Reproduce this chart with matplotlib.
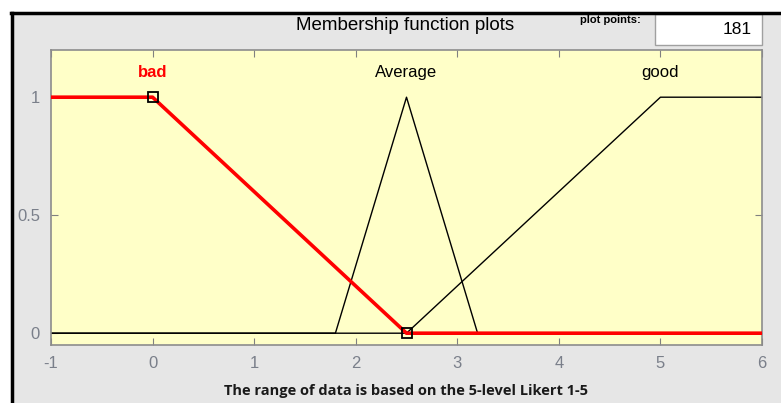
import matplotlib
matplotlib.use("Agg")
import matplotlib.pyplot as plt
from matplotlib.patches import Rectangle
from matplotlib.lines import Line2D

# membership functions on the input range
bad_x = [-1, 0, 2.5, 6]
bad_y = [1, 1, 0, 0]
avg_x = [-1, 1.8, 2.5, 3.2, 6]
avg_y = [0, 0, 1, 0, 0]
good_x = [-1, 2.5, 5, 6]
good_y = [0, 0, 1, 1]
mf_names = ["bad", "Average", "good"]
mf_label_x = [0, 2.5, 5]
selected_pts_x = [0, 2.5]
selected_pts_y = [1, 0]
plot_points = 181

xticks = [-1, 0, 1, 2, 3, 4, 5, 6]
yticks = [0, 0.5, 1]

W, H = 781, 403
fig = plt.figure(figsize=(W / 100, H / 100), dpi=100, facecolor="white")
plt.rcParams["font.family"] = ["Liberation Sans", "DejaVu Sans"]

# gray panel with black top/left edge
fig.add_artist(Rectangle((12 / W, 0), 1 - 12 / W, 1 - 14 / H, transform=fig.transFigure,
                         facecolor="#e6e6e6", edgecolor="none", zorder=0))
fig.add_artist(Line2D([12 / W, 12 / W], [0, 1 - 13 / H], transform=fig.transFigure,
                      color="black", lw=2.5))
fig.add_artist(Line2D([11 / W, 1], [1 - 13 / H, 1 - 13 / H], transform=fig.transFigure,
                      color="black", lw=2.5))

ax = fig.add_axes([51 / W, 1 - 345 / H, (762 - 51) / W, (345 - 50) / H])
ax.set_facecolor("#ffffc8")
ax.plot(avg_x, avg_y, color="black", lw=1, zorder=2)
ax.plot(good_x, good_y, color="black", lw=1, zorder=2)
ax.plot(bad_x, bad_y, color="red", lw=2.6, zorder=3)
ax.plot(selected_pts_x, selected_pts_y, ls="none", marker="s", ms=7, mfc="none",
        mec="black", mew=1.3, zorder=4)

ax.set_xlim(-1, 6)
ax.set_ylim(-0.05, 1.2)
ax.set_xticks(xticks)
ax.set_xticklabels([str(t) for t in xticks])
ax.set_yticks(yticks)
ax.set_yticklabels(["0", "0.5", "1"])
ax.tick_params(direction="in", length=5, top=True, right=True, colors="#808080",
               labelcolor="#7a7f8a", labelsize=12, width=0.8, pad=8)
for s in ax.spines.values():
    s.set_color("#8c8c8c")
    s.set_linewidth(1.2)

for name, x in zip(mf_names, mf_label_x):
    if name == "bad":
        ax.text(x, 1.105, name, color="red", fontsize=12, fontweight="bold", ha="center", va="center")
    else:
        ax.text(x, 1.105, name, color="black", fontsize=12, ha="center", va="center")

ax.set_xlabel("The range of data is based on the 5-level Likert 1-5", fontsize=10.5,
              fontweight="bold", color="#1a1a1a", labelpad=9, family=["Open Sans", "DejaVu Sans"])

fig.text(405 / W, 1 - 25 / H, "Membership function plots", fontsize=13.5, ha="center", va="center")
fig.text(610 / W, 1 - 20 / H, "plot points:", fontsize=8, fontweight="bold", ha="center", va="center")
fig.add_artist(Rectangle((655 / W, 1 - 45 / H), 107 / W, 31 / H, transform=fig.transFigure,
                         facecolor="white", edgecolor="#a0a0a0", lw=1))
fig.text(752 / W, 1 - 30 / H, str(plot_points), fontsize=12.5, ha="right", va="center")

fig.savefig("out.png", dpi=100, facecolor=fig.get_facecolor())
